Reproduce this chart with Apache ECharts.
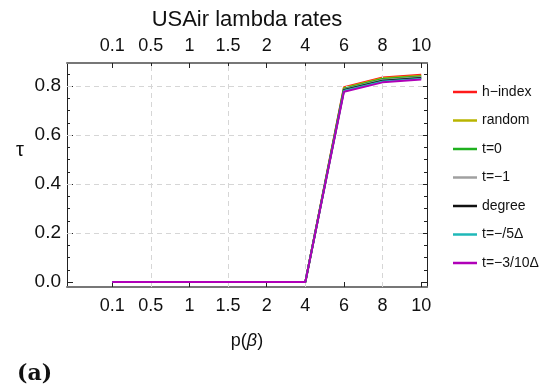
<!DOCTYPE html>
<html>
<head>
<meta charset="utf-8">
<script src="https://cdn.jsdelivr.net/npm/echarts@6/dist/echarts.min.js"></script>
<style>
  html, body { margin: 0; padding: 0; background: #fff; }
  #main { width: 548px; height: 391px; }
</style>
</head>
<body>
<div id="main"></div>
<script>
// lambda 取值（类别轴，等距）
var lambdaLabels = ['0.1', '0.5', '1', '1.5', '2', '4', '6', '8', '10'];

// 各方法的 tau 值
var hIndex   = [0, 0, 0, 0, 0, 0, 0.795, 0.835, 0.846];
var randomV  = [0, 0, 0, 0, 0, 0, 0.792, 0.832, 0.842];
var tZero    = [0, 0, 0, 0, 0, 0, 0.789, 0.829, 0.839];
var tMinus1  = [0, 0, 0, 0, 0, 0, 0.786, 0.825, 0.836];
var degree   = [0, 0, 0, 0, 0, 0, 0.784, 0.822, 0.833];
var tFifth   = [0, 0, 0, 0, 0, 0, 0.781, 0.819, 0.830];
var tTenth   = [0, 0, 0, 0, 0, 0, 0.777, 0.815, 0.827];

// 刻度
var yMajorTicks = [0, 0.2, 0.4, 0.6, 0.8];
var yMinorTicks = [0, 0.05, 0.1, 0.15, 0.2, 0.25, 0.3, 0.35, 0.4, 0.45, 0.5, 0.55, 0.6, 0.65, 0.7, 0.75, 0.8, 0.85];
var yGridLines = [0.2, 0.4, 0.6, 0.8];
var xGridLines = [1, 3, 5, 7];

var seriesDefs = [
  {name: 'h\u2212index', data: hIndex, color: '#ff1a1a'},
  {name: 'random', data: randomV, color: '#b8b400'},
  {name: 't=0', data: tZero, color: '#1fb01f'},
  {name: 't=\u22121', data: tMinus1, color: '#a0a0a0'},
  {name: 'degree', data: degree, color: '#111111'},
  {name: 't=\u2212/5\u0394', data: tFifth, color: '#1fb8b8'},
  {name: 't=\u22123/10\u0394', data: tTenth, color: '#b000b8'}
];

var xIdx = lambdaLabels.map(function(l, i){ return i; });
var X_MIN = -1.17, X_MAX = 8.15, Y_MIN = -0.02, Y_MAX = 0.894;
var fontFam = '"Liberation Sans", Arial, sans-serif';

var chart = echarts.init(document.getElementById('main'), null, {renderer: 'canvas'});

function xAxisCfg(pos, lineColor){
  return {
    type: 'value', position: pos, min: X_MIN, max: X_MAX,
    axisLine: {show: true, onZero: false, lineStyle: {color: lineColor, width: 2}},
    axisTick: {show: true, inside: true, length: 5, customValues: xIdx, lineStyle: {color: '#222'}},
    axisLabel: {
      show: true, customValues: xIdx, fontSize: 18, color: '#111', fontFamily: fontFam, margin: 8,
      formatter: function(v){ return lambdaLabels[Math.round(v)]; }
    },
    splitLine: {show: false}
  };
}

function yAxisCfg(pos, ticks, len, showLabel, showLine){
  return {
    type: 'value', position: pos, min: Y_MIN, max: Y_MAX,
    axisLine: {show: showLine, onZero: false, lineStyle: {color: '#222', width: 1}},
    axisTick: {show: true, inside: true, length: len, customValues: ticks, lineStyle: {color: '#222'}},
    axisLabel: {
      show: showLabel, customValues: ticks, fontSize: 19, color: '#111', fontFamily: fontFam, margin: 6,
      formatter: function(v){ return v.toFixed(1); }
    },
    splitLine: {show: false}
  };
}

var xb = xAxisCfg('bottom', '#777');
xb.axisLabel.margin = 10;
xb.name = 'p({it|\u03b2})';
xb.nameLocation = 'middle';
xb.nameGap = 45;
xb.nameTextStyle = {fontSize: 18, color: '#111', fontFamily: fontFam,
  rich: {it: {fontSize: 18, fontStyle: 'italic', fontFamily: fontFam, color: '#111'}}};

var xt = xAxisCfg('top', '#777');
xt.name = 'USAir lambda rates';
xt.nameLocation = 'middle';
xt.nameGap = 32;
xt.nameTextStyle = {fontSize: 22, color: '#111', fontFamily: fontFam};

var series = seriesDefs.map(function(s, k){
  return {
    name: s.name, type: 'line', xAxisIndex: 0, yAxisIndex: 0,
    data: s.data.map(function(v, i){ return [xIdx[i], v]; }),
    showSymbol: false, symbol: 'none', animation: false,
    lineStyle: {width: 2, color: s.color}, itemStyle: {color: s.color},
    z: 3 + k
  };
});

// 网格虚线
series.unshift({
  name: 'gridlines', type: 'line', data: [], xAxisIndex: 0, yAxisIndex: 0, z: 1,
  markLine: {
    silent: true, symbol: 'none', animation: false,
    label: {show: false},
    lineStyle: {type: [5, 4], color: '#d6d6d6', width: 1},
    data: yGridLines.map(function(v){ return {yAxis: v}; })
      .concat(xGridLines.map(function(v){ return {xAxis: v}; }))
  }
});

chart.setOption({
  animation: false,
  backgroundColor: '#fff',
  title: {
    text: '(a)', left: 12, top: 358,
    textStyle: {fontSize: 22, fontWeight: 'bold', fontFamily: '"DejaVu Serif", "Liberation Serif", serif', color: '#111'}
  },
  graphic: [{
    type: 'text', left: 16, top: 140,
    style: {text: '\u03c4', fontSize: 20, fontFamily: fontFam, fill: '#111'}
  }],
  grid: {left: 67, right: 121, top: 63, bottom: 104},
  legend: {
    orient: 'vertical', left: 453, top: 85, padding: 0,
    data: seriesDefs.map(function(s){ return s.name; }),
    icon: 'rect', itemWidth: 24, itemHeight: 2.5, itemGap: 14.5,
    textStyle: {fontSize: 14, color: '#111', fontFamily: fontFam}
  },
  xAxis: [xb, xt],
  yAxis: [
    yAxisCfg('left', yMajorTicks, 6, true, true),
    yAxisCfg('left', yMinorTicks, 3, false, false),
    yAxisCfg('right', yMajorTicks, 6, false, true),
    yAxisCfg('right', yMinorTicks, 3, false, false)
  ],
  series: series
});
</script>
</body>
</html>
